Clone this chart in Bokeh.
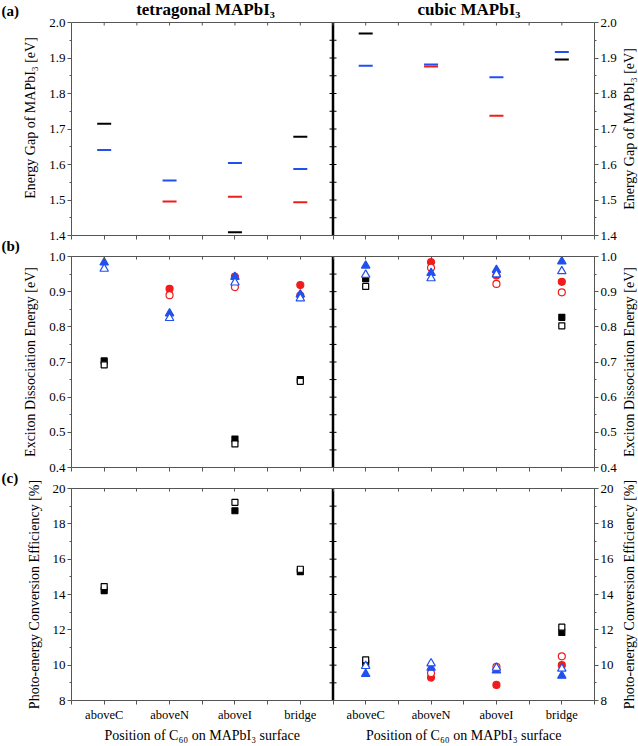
import math
import numpy as np
from bokeh.plotting import figure
from bokeh.layouts import column, row
from bokeh.models import LinearAxis, FixedTicker, Range1d, Span, PrintfTickFormatter
from bokeh.core.properties import value
from bokeh.embed import file_html
from bokeh.resources import INLINE

nan = float("nan")

# ---------------- data ----------------
positions = ["aboveC", "aboveN", "aboveI", "bridge"]
phase_titles = ["tetragonal MAPbI₃", "cubic MAPbI₃"]
panel_tags = ["(a)", "(b)", "(c)"]
y_titles = ["Energy Gap of MAPbI₃ [eV]", "Exciton Dissociation Energy [eV]",
            "Photo-energy Conversion Efficiency [%]"]
x_title = "Position of C₆₀ on MAPbI₃ surface"

# (a) energy gap of MAPbI3 [eV]
gap_black_tet = [1.715, nan, 1.409, 1.678]
gap_black_cub = [1.969, nan, nan, 1.896]
gap_blue_tet = [1.641, 1.555, 1.604, 1.587]
gap_blue_cub = [1.878, 1.882, 1.846, 1.917]
gap_red_tet = [nan, 1.496, 1.509, 1.494]
gap_red_cub = [nan, 1.876, 1.737, nan]

# (b) exciton dissociation energy [eV]
ede_sq_fill_tet = [0.703, nan, 0.481, 0.650]
ede_sq_open_tet = [0.692, nan, 0.467, 0.645]
ede_ci_fill_tet = [nan, 0.908, 0.943, 0.919]
ede_ci_open_tet = [nan, 0.890, 0.913, 0.889]
ede_tr_fill_tet = [0.983, 0.838, 0.942, 0.892]
ede_tr_open_tet = [0.965, 0.825, 0.926, 0.881]
ede_sq_fill_cub = [0.937, nan, nan, 0.827]
ede_sq_open_cub = [0.915, nan, nan, 0.803]
ede_ci_fill_cub = [nan, 0.984, 0.946, 0.928]
ede_ci_open_cub = [nan, 0.968, 0.922, 0.898]
ede_tr_fill_cub = [0.974, 0.953, 0.962, 0.986]
ede_tr_open_cub = [0.948, 0.938, 0.949, 0.958]

# (c) photo-energy conversion efficiency [%]
pce_sq_fill_tet = [14.22, nan, 18.74, 15.29]
pce_sq_open_tet = [14.45, nan, 19.22, 15.43]
pce_ci_fill_tet = [nan, nan, nan, nan]
pce_ci_open_tet = [nan, nan, nan, nan]
pce_tr_fill_tet = [nan, nan, nan, nan]
pce_tr_open_tet = [nan, nan, nan, nan]
pce_sq_fill_cub = [10.08, nan, nan, 11.85]
pce_sq_open_cub = [10.30, nan, nan, 12.15]
pce_ci_fill_cub = [nan, 9.30, 8.88, 10.00]
pce_ci_open_cub = [nan, 9.55, 9.90, 10.50]
pce_tr_fill_cub = [9.50, 9.85, 9.70, 9.40]
pce_tr_open_cub = [9.95, 10.10, 9.85, 9.80]

gap_ticks = [1.4, 1.5, 1.6, 1.7, 1.8, 1.9, 2.0]
ede_ticks = [0.4, 0.5, 0.6, 0.7, 0.8, 0.9, 1.0]
pce_ticks = [8, 10, 12, 14, 16, 18, 20]

# ---------------- style / layout ----------------
FONT = "Liberation Serif"
AXC = "#555555"
BLACK = "#000000"
RED = "#f01c1c"
BLUE = "#2050ee"
PAGE_H = 746
STRIP_W = 20          # left strip holding panel tags
RSTRIP_W = 18         # right strip holding right-hand y titles
MAIN_W = 600
LB, RB = 48, 26       # borders of the main figures
HEAD = 22             # title zone inside panel (a) frame, px
BOX_A = 213           # panel (a) plot box height, px
# page rows of the three plot boxes (top, height)
boxes = [(22, 213), (256, 211), (488, 212)]

n = len(positions)
x_all = np.arange(1, 2 * n + 1, dtype=float)
x_half = [0.5 + 0.5 * i for i in range(4 * n + 1)]
x_overrides = {t: "" for t in x_half}
for i, t in enumerate(x_all):
    x_overrides[float(t)] = positions[i % n]
blank_overrides = {t: "" for t in x_half}


def minor_of(ticks):
    return [(a + b) / 2 for a, b in zip(ticks[:-1], ticks[1:])]


def style_axis(ax):
    ax.axis_line_color = AXC
    ax.axis_line_width = 1
    ax.major_tick_line_color = AXC
    ax.minor_tick_line_color = AXC
    ax.major_label_text_font = FONT
    ax.major_label_text_font_size = "13px"
    ax.major_label_text_color = "black"
    ax.axis_label_text_font = FONT
    ax.axis_label_text_font_size = "14px"
    ax.axis_label_text_font_style = "normal"
    ax.axis_label_text_color = "black"


def hidden_labels(ax):
    ax.major_label_overrides = blank_overrides
    ax.major_label_text_font_size = "1px"
    ax.major_label_text_color = None
    ax.major_label_standoff = 0


def bare_fig(width, height, xr, yr, lb=0, rb=0):
    p = figure(width=width, height=height, x_range=xr, y_range=yr,
               output_backend="svg", toolbar_location=None, title_location=None,
               x_axis_location=None, y_axis_location=None,
               min_border_left=lb, min_border_right=rb, min_border_top=0, min_border_bottom=0)
    p.xgrid.grid_line_color = None
    p.ygrid.grid_line_color = None
    p.outline_line_color = None
    return p


def make_fig(height, top, bottom, yr, ticks, fmt, ylabel, xlabels, top_axis=True, y_end=None):
    y0, y1 = yr
    p = figure(width=MAIN_W, height=height, x_range=Range1d(0.5, 8.5),
               y_range=Range1d(y0, y1 if y_end is None else y_end),
               output_backend="svg", toolbar_location=None, title_location=None,
               x_axis_location=None, y_axis_location=None,
               min_border_left=LB, min_border_right=RB,
               min_border_top=top, min_border_bottom=bottom)
    p.xgrid.grid_line_color = None
    p.ygrid.grid_line_color = None
    p.outline_line_color = None
    p.border_fill_color = "white"

    for side in ("left", "right"):
        ax = LinearAxis(ticker=FixedTicker(ticks=ticks, minor_ticks=minor_of(ticks)),
                        axis_label=ylabel if side == "left" else None,
                        formatter=PrintfTickFormatter(format=fmt), bounds=(y0, y1))
        style_axis(ax)
        ax.major_tick_out = 4
        ax.major_tick_in = 0
        ax.minor_tick_out = 2
        ax.minor_tick_in = 0
        ax.major_label_standoff = 2
        ax.axis_label_standoff = 8
        p.add_layout(ax, side)

    xb = LinearAxis(ticker=FixedTicker(ticks=x_half, minor_ticks=[]),
                    major_label_overrides=x_overrides)
    style_axis(xb)
    xb.major_tick_out = 4
    xb.major_tick_in = 0
    xb.major_label_standoff = 3
    xb.major_label_text_font_size = "12.5px"
    if not xlabels:
        hidden_labels(xb)
    p.add_layout(xb, "below")

    if top_axis:
        xa = LinearAxis(ticker=FixedTicker(ticks=x_half, minor_ticks=[]))
        style_axis(xa)
        xa.major_tick_out = 0
        xa.major_tick_in = 3
        hidden_labels(xa)
        p.add_layout(xa, "above")

    # divider between tetragonal and cubic halves, with small ticks on both sides
    p.segment(x0=[4.5], y0=[y0], x1=[4.5], y1=[y1], line_color="black", line_width=2.5)
    inner = list(ticks[1:-1]) + minor_of(ticks)
    for ang in (0.0, math.pi):
        p.ray(x=[4.5] * len(inner), y=inner, length=3.5, length_units="screen",
              angle=ang, line_color="black", line_width=1)
    return p


def pts(p, tet, cub, marker, color, filled, size):
    y = np.array(list(tet) + list(cub), dtype=float)
    p.scatter(x_all, y, marker=marker, size=size, line_color=color,
              fill_color=color if filled else "white", line_width=1.2)


def all_points(p, sq_f_t, sq_o_t, ci_f_t, ci_o_t, tr_f_t, tr_o_t,
               sq_f_c, sq_o_c, ci_f_c, ci_o_c, tr_f_c, tr_o_c):
    pts(p, sq_f_t, sq_f_c, "square", BLACK, True, 6)
    pts(p, sq_o_t, sq_o_c, "square", BLACK, False, 6)
    pts(p, ci_f_t, ci_f_c, "circle", RED, True, 7)
    pts(p, ci_o_t, ci_o_c, "circle", RED, False, 7)
    pts(p, tr_f_t, tr_f_c, "triangle", BLUE, True, 8.5)
    pts(p, tr_o_t, tr_o_c, "triangle", BLUE, False, 8.5)


# ---------------- panel (a) (title zone inside its frame) ----------------
g0, g1 = gap_ticks[0], gap_ticks[-1]
px_a = (g1 - g0) / BOX_A
pa = make_fig(245, 0, 10, (g0, g1), gap_ticks, "%.1f", y_titles[0], False,
              top_axis=False, y_end=g1 + HEAD * px_a)
pa.add_layout(Span(location=g1, dimension="width", line_color=AXC, line_width=1))
pa.ray(x=x_half, y=[g1] * len(x_half), length=3, length_units="screen",
       angle=-math.pi / 2, line_color=AXC, line_width=1)
for tet, cub, col in ((gap_black_tet, gap_black_cub, BLACK),
                      (gap_blue_tet, gap_blue_cub, BLUE),
                      (gap_red_tet, gap_red_cub, RED)):
    y = np.array(list(tet) + list(cub), dtype=float)
    pa.scatter(x_all, y, marker="dash", size=14, line_color=col, line_width=2)
pa.text(x=[2.5 + 0.05, 6.5 + 0.08], y=[g1 + 13 * px_a] * 2, text=phase_titles,
        text_font=value(FONT), text_font_size="17px", text_font_style="bold",
        text_align="center", text_baseline="middle", text_color="black")

# ---------------- panel (b) ----------------
pb = make_fig(232, 11, 10, (ede_ticks[0], ede_ticks[-1]), ede_ticks, "%.1f",
              y_titles[1], False)
all_points(pb, ede_sq_fill_tet, ede_sq_open_tet, ede_ci_fill_tet, ede_ci_open_tet,
           ede_tr_fill_tet, ede_tr_open_tet, ede_sq_fill_cub, ede_sq_open_cub,
           ede_ci_fill_cub, ede_ci_open_cub, ede_tr_fill_cub, ede_tr_open_cub)

# ---------------- panel (c) ----------------
pc = make_fig(247, 11, 24, (pce_ticks[0], pce_ticks[-1]), pce_ticks, "%d",
              y_titles[2], True)
all_points(pc, pce_sq_fill_tet, pce_sq_open_tet, pce_ci_fill_tet, pce_ci_open_tet,
           pce_tr_fill_tet, pce_tr_open_tet, pce_sq_fill_cub, pce_sq_open_cub,
           pce_ci_fill_cub, pce_ci_open_cub, pce_tr_fill_cub, pce_tr_open_cub)

# ---------------- footer with x-axis titles ----------------
pf = bare_fig(MAIN_W, 22, Range1d(0.5, 8.5), Range1d(0, 1), LB, RB)
pf.text(x=[2.5, 6.5], y=[0.5, 0.5], text=[x_title, x_title], text_font=value(FONT),
        text_font_size="14px", text_align="center", text_baseline="middle", text_color="black")

# ---------------- left strip with panel tags ----------------
ps = bare_fig(STRIP_W, PAGE_H, Range1d(0, STRIP_W), Range1d(PAGE_H, 0))
ps.text(x=[1, 1, 1], y=[10, 245.5, 477], text=panel_tags, text_font=value(FONT),
        text_font_size="15px", text_font_style="bold", text_align="left",
        text_baseline="middle", text_color="black")

# ---------------- right strip with right-hand y titles ----------------
pr = bare_fig(RSTRIP_W, PAGE_H, Range1d(0, RSTRIP_W), Range1d(PAGE_H, 0))
pr.text(x=[8.5] * 3, y=[t + h / 2 for t, h in boxes], text=y_titles, angle=math.pi / 2,
        text_font=value(FONT), text_font_size="14px", text_align="center",
        text_baseline="middle", text_color="black")

layout = row(ps, column(pa, pb, pc, pf, spacing=0), pr, spacing=0)

with open("out.html", "w") as f:
    f.write(file_html(layout, INLINE))
